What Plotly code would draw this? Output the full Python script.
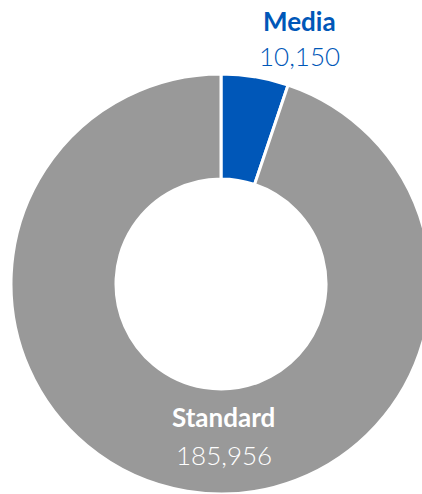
import plotly.graph_objects as go

labels = ["Media", "Standard"]
values = [10150, 185956]
colors = ["#0057B8", "#999999"]
text_colors = ["#0057B8", "#FFFFFF"]

# label placement (paper coords): (x, y_name, y_value)
label_pos = [(0.688, 1.126, 1.043), (0.507, 0.184, 0.093)]

W, H = 442, 568
fig = go.Figure(go.Pie(
    labels=labels, values=values, sort=False, direction="clockwise", rotation=0,
    hole=0.5, marker=dict(colors=colors, line=dict(color="white", width=3)),
    textinfo="none", hoverinfo="label+value", showlegend=False,
))

ann = []
for lab, val, tc, (x, yn, yv) in zip(labels, values, text_colors, label_pos):
    ann.append(dict(x=x, y=yn, xref="paper", yref="paper", text=f"<b>{lab}</b>",
                    xanchor="center", yanchor="middle", showarrow=False,
                    font=dict(family="Lato", size=26, color=tc)))
    ann.append(dict(x=x, y=yv, xref="paper", yref="paper", text=f"{val:,}",
                    xanchor="center", yanchor="middle", showarrow=False,
                    font=dict(family="Lato", size=26, color=tc, weight=300)))

fig.update_layout(
    width=W, height=H, autosize=False,
    margin=dict(l=11, r=11, t=74, b=74, pad=0),
    paper_bgcolor="white", plot_bgcolor="white",
    annotations=ann,
)
fig.write_html("out.html", config={"displayModeBar": False},
               post_script="document.body.style.margin='0';document.body.style.overflow='hidden';")
